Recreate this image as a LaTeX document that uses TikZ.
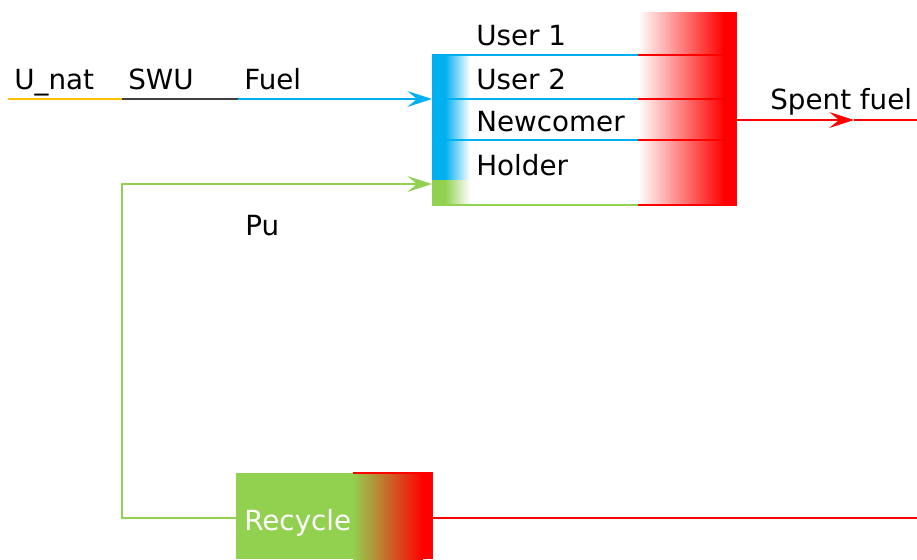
\documentclass[tikz,border=0pt]{standalone}
\usepackage{fontspec}
\setmainfont{DejaVu Sans}
\usetikzlibrary{arrows.meta}
\definecolor{fuelblue}{HTML}{00B0F0}
\definecolor{pugreen}{HTML}{92D050}
\definecolor{unatyellow}{HTML}{FFC000}
\definecolor{swugray}{HTML}{404040}
\definecolor{spentred}{HTML}{FF0000}
\tikzset{
  lbl/.style={anchor=base west, inner sep=0pt, font=\fontsize{15.8}{18}\selectfont},
  flow/.style={line width=1.3pt},
}
\begin{document}
\begin{tikzpicture}[x=0.02cm, y=-0.02cm, >={Stealth[length=14pt,width=9pt,inset=5.5pt]}]
    \useasboundingbox (0,0) rectangle (917,559);
    % reactor block
    \fill[left color=white, right color=spentred] (638,12) rectangle (724,205);
    \fill[spentred] (723,12) rectangle (737,205);
    \fill[fuelblue] (432,55) rectangle (446,180);
    \fill[left color=fuelblue, right color=white] (445,55) rectangle (470,180);
    \fill[pugreen] (432,180) rectangle (446,205);
    \fill[left color=pugreen, right color=white] (445,180) rectangle (470,205);
    \foreach \y in {55,99,140} {
      \draw[flow, fuelblue] (432,\y) -- (638,\y);
      \draw[flow, spentred] (638,\y) -- (737,\y);
    }
    \draw[flow, pugreen] (432,205) -- (638,205);
    \draw[flow, spentred] (638,205) -- (737,205);
    \node[lbl] (user1) at (476,45) {User 1};
    \node[lbl] (user2) at (476,89) {User 2};
    \node[lbl] (newcomer) at (476,131) {Newcomer};
    \node[lbl] (holder) at (476,175) {Holder};
    % recycle block
    \fill[pugreen] (236,473) rectangle (354,559);
    \fill[left color=pugreen, right color=spentred] (353,473) rectangle (423,559);
    \fill[spentred] (422,473) rectangle (433,559);
    \draw[flow, spentred] (353,473) -- (433,473);
    \node[lbl, text=white] (recycle) at (244,530) {Recycle};
    % front end
    \coordinate (src) at (8,99);
    \coordinate (enr) at (122,99);
    \coordinate (fab) at (238,99);
    \coordinate (rin) at (432,99);
    \draw[flow, unatyellow] (src) -- (enr);
    \draw[flow, swugray] (enr) -- (fab);
    \draw[flow, fuelblue, ->] (fab) -- (rin);
    \node[lbl] (unat) at (14,89) {U\_nat};
    \node[lbl] (swu) at (128,89) {SWU};
    \node[lbl] (fuel) at (244,89) {Fuel};
    % spent fuel
    \coordinate (rout) at (737,120);
    \coordinate (spmid) at (854,120);
    \coordinate (spend) at (917,120);
    \draw[flow, spentred, ->] (rout) -- (spmid);
    \draw[flow, spentred] (spmid) -- (spend);
    \node[lbl] (spent) at (770,109) {Spent fuel};
    % plutonium loop
    \coordinate (recw) at (236,518);
    \coordinate (rece) at (433,518);
    \coordinate (pucorner) at (122,518);
    \coordinate (puin) at (432,184);
    \coordinate (recend) at (917,518);
    \draw[flow, pugreen, ->] (recw) -- (pucorner) |- (puin);
    \draw[flow, spentred] (rece) -- (recend);
    \node[lbl] (pu) at (245,235) {Pu};
  \end{tikzpicture}
\end{document}
